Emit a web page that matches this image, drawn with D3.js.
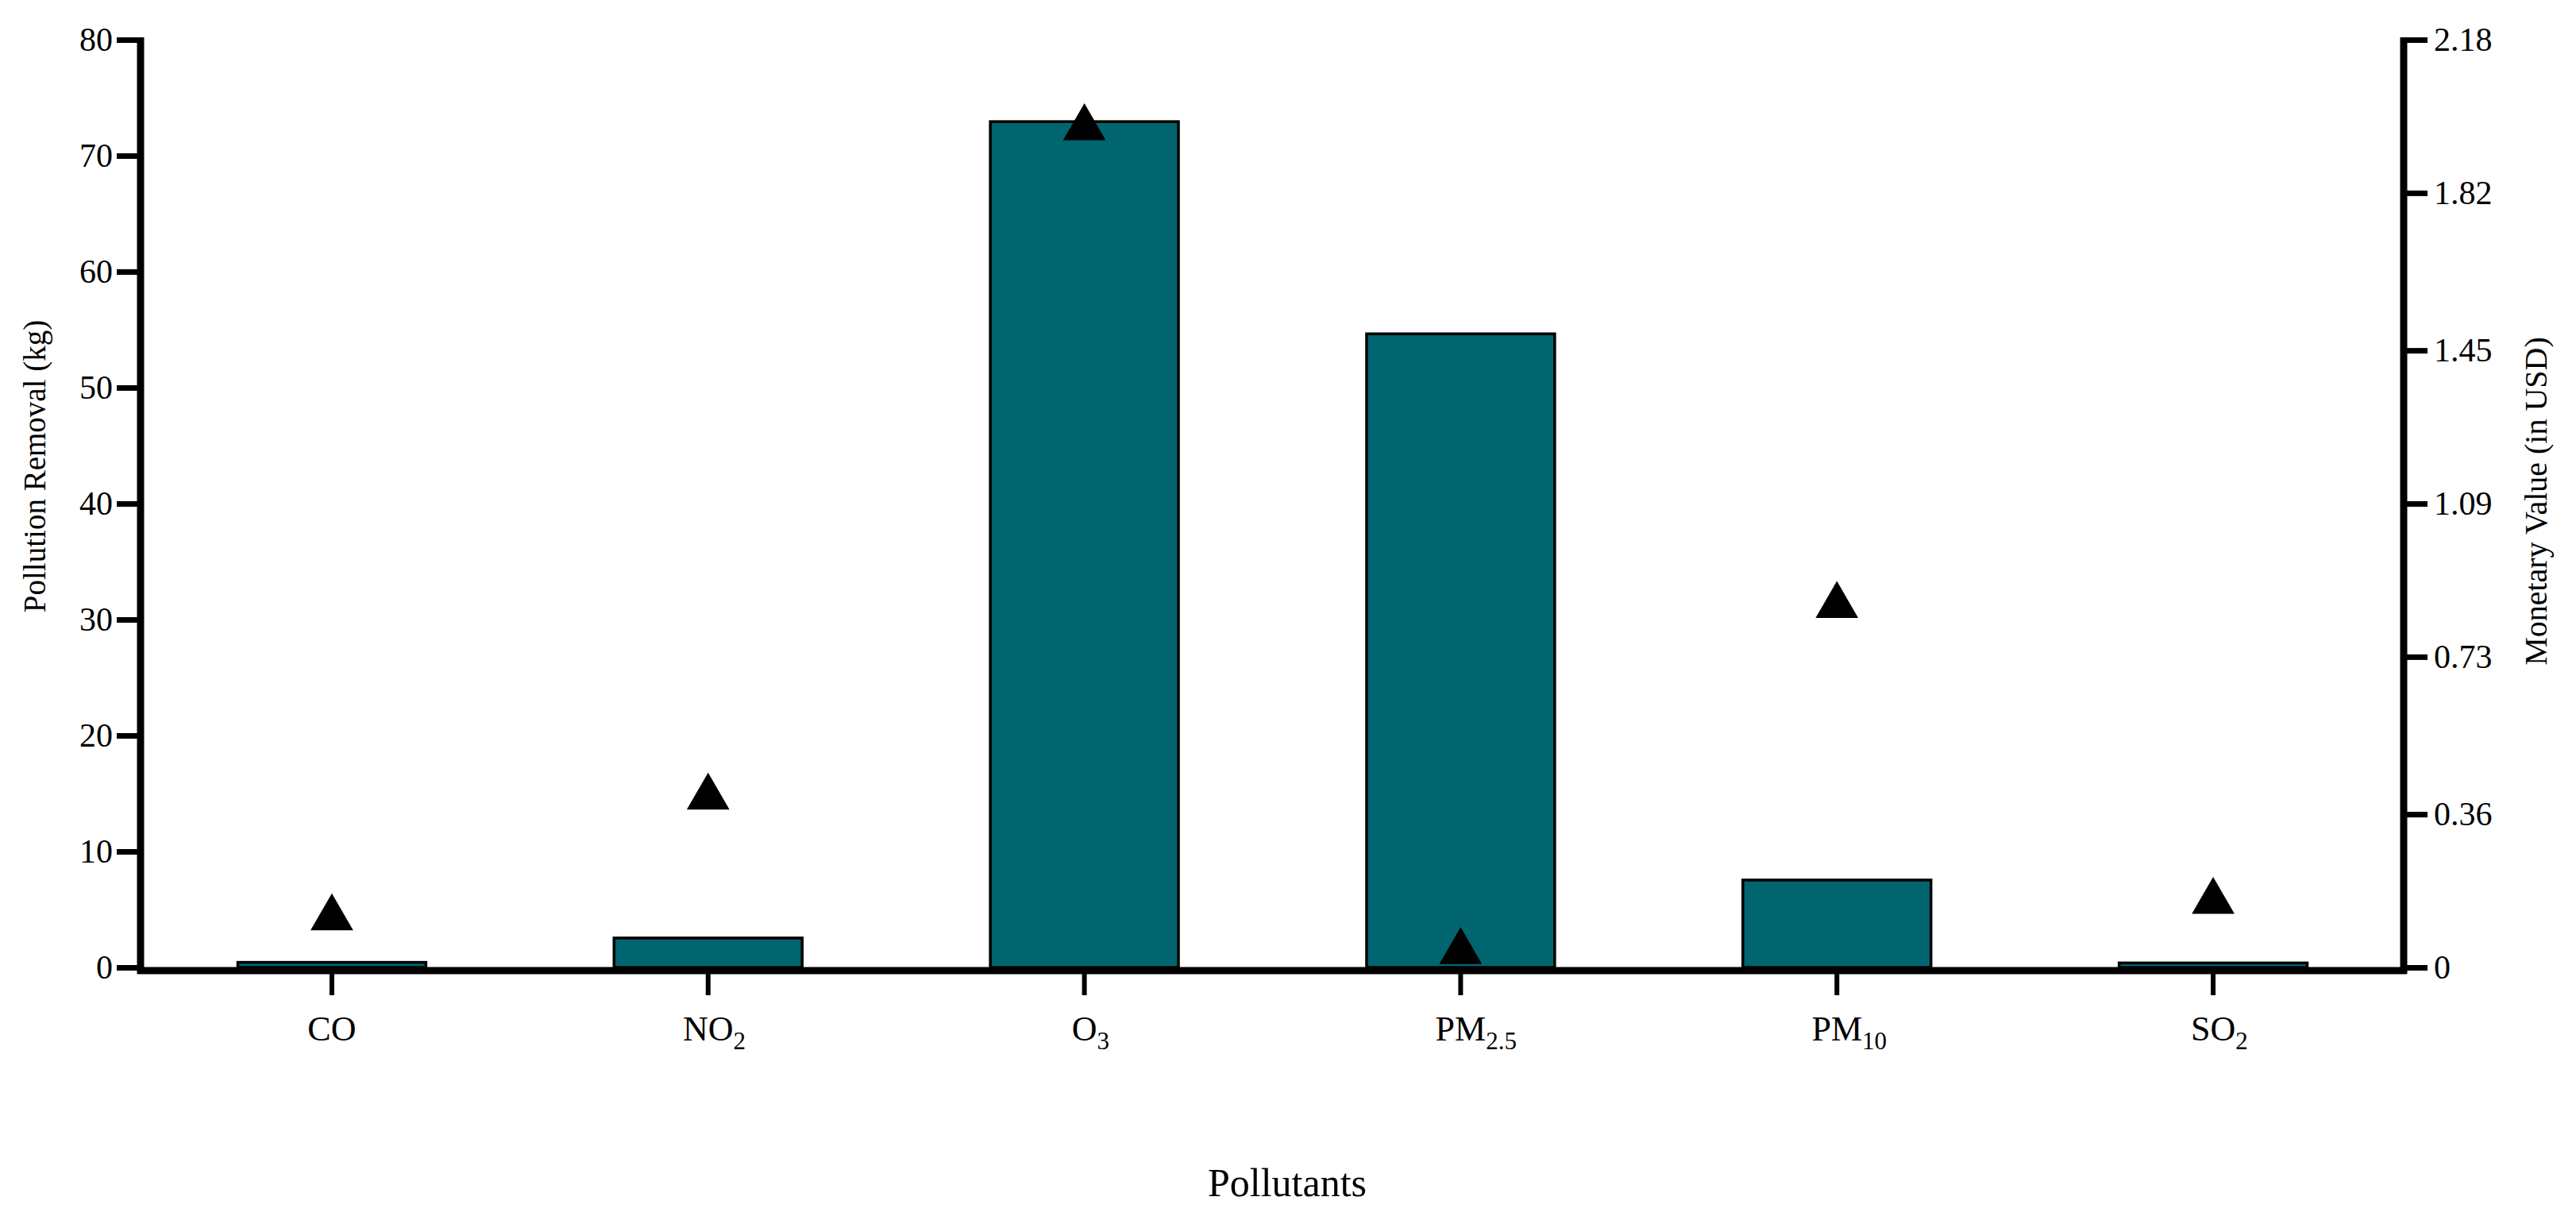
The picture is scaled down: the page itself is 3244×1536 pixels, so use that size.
<!DOCTYPE html>
<html>
<head>
<meta charset="utf-8">
<script src="https://cdn.jsdelivr.net/npm/d3@7"></script>
<style>
  html, body { margin: 0; padding: 0; background: #ffffff; }
  svg { display: block; }
  text { font-family: "Liberation Serif", "Times New Roman", serif; fill: #000; }
</style>
</head>
<body>
<svg id="chart" width="3244" height="1536"></svg>
<script>
// ---- data ----
const categories = ["CO", "NO2", "O3", "PM2.5", "PM10", "SO2"];
const removalKg = [0.3, 2.4, 72.8, 54.5, 7.4, 0.25];
const monetaryUSD = [0.116, 0.40, 1.973, 0.037, 0.85, 0.155];
const leftTicks = [0, 10, 20, 30, 40, 50, 60, 70, 80];
const rightTicks = [0, 0.36, 0.73, 1.09, 1.45, 1.82, 2.18];
const leftTitle = "Pollution Removal (kg)";
const rightTitle = "Monetary Value (in USD)";
const xTitle = "Pollutants";

// ---- layout ----
const svg = d3.select("#chart");
const leftX = 177, rightX = 3027, y0 = 1218, yTop = 50, xAxisY = 1222;

const x = d3.scaleBand().domain(categories).range([181, 3024])
  .paddingInner(0.5).paddingOuter(0.25);
const yL = d3.scaleLinear().domain([0, 80]).range([y0, yTop]);
const yR = d3.scaleLinear().domain([0, 2.18]).range([y0, yTop]);

const barColor = "#00656f";

// bars
svg.append("g").selectAll("rect")
  .data(categories.map((c, i) => ({c, v: removalKg[i]})))
  .join("rect")
  .attr("x", d => x(d.c))
  .attr("width", x.bandwidth())
  .attr("y", d => yL(d.v) - 2)
  .attr("height", d => y0 - yL(d.v) + 2)
  .attr("fill", barColor)
  .attr("stroke", "#000")
  .attr("stroke-width", 3.5);

// x axis
const gx = svg.append("g").attr("transform", `translate(0,${xAxisY})`)
  .call(d3.axisBottom(x).tickSize(31).tickSizeOuter(0).tickFormat(""));
gx.select(".domain").remove();
gx.selectAll(".tick line").attr("stroke", "#000").attr("stroke-width", 6);
svg.append("line")
  .attr("x1", leftX - 4).attr("x2", rightX + 4)
  .attr("y1", xAxisY).attr("y2", xAxisY)
  .attr("stroke", "#000").attr("stroke-width", 9);

// x tick labels with subscripts
gx.selectAll(".tick").each(function(d) {
  const m = d.match(/^(\D+)(.*)$/);
  const base = m[1], sub = m[2];
  const t = d3.select(this).append("text")
    .attr("y", 88).attr("font-size", 44).attr("text-anchor", "start")
    .text(base);
  const w = t.node().getComputedTextLength();
  t.attr("x", -w / 2);
  if (sub) {
    t.append("tspan").attr("font-size", 31).attr("dy", 11).text(sub);
  }
});

// left axis
const gl = svg.append("g").attr("transform", `translate(${leftX},0)`)
  .call(d3.axisLeft(yL).tickValues(leftTicks).tickSize(30).tickSizeOuter(0).tickPadding(5));
gl.select(".domain").attr("stroke", "#000").attr("stroke-width", 9)
  .attr("d", `M0,${yTop - 3}V${xAxisY + 4}`);
gl.selectAll(".tick line").attr("stroke", "#000").attr("stroke-width", 7);
gl.selectAll(".tick text").attr("font-size", 42).attr("font-family", "Liberation Serif");

// right axis
const gr = svg.append("g").attr("transform", `translate(${rightX},0)`)
  .call(d3.axisRight(yR).tickValues(rightTicks).tickSize(30).tickSizeOuter(0).tickPadding(8)
    .tickFormat(d => d === 0 ? "0" : d3.format(".2f")(d)));
gr.select(".domain").attr("stroke", "#000").attr("stroke-width", 9)
  .attr("d", `M0,${yTop - 3}V${xAxisY + 4}`);
gr.selectAll(".tick line").attr("stroke", "#000").attr("stroke-width", 7);
gr.selectAll(".tick text").attr("font-size", 42).attr("font-family", "Liberation Serif");

// triangles (monetary value)
const tri = d3.symbol().type(d3.symbolTriangle).size(1250);
svg.append("g").selectAll("path")
  .data(categories.map((c, i) => ({c, v: monetaryUSD[i]})))
  .join("path")
  .attr("d", tri)
  .attr("transform", d => `translate(${x(d.c) + x.bandwidth() / 2},${yR(d.v)})`)
  .attr("fill", "#000");

// axis titles
svg.append("text")
  .attr("transform", `translate(57,587) rotate(-90)`)
  .attr("text-anchor", "middle").attr("font-size", 39)
  .text(leftTitle);
svg.append("text")
  .attr("transform", `translate(3207,631) rotate(-90)`)
  .attr("text-anchor", "middle").attr("font-size", 40)
  .text(rightTitle);
svg.append("text")
  .attr("x", 1621).attr("y", 1506)
  .attr("text-anchor", "middle").attr("font-size", 50)
  .text(xTitle);
</script>
</body>
</html>
